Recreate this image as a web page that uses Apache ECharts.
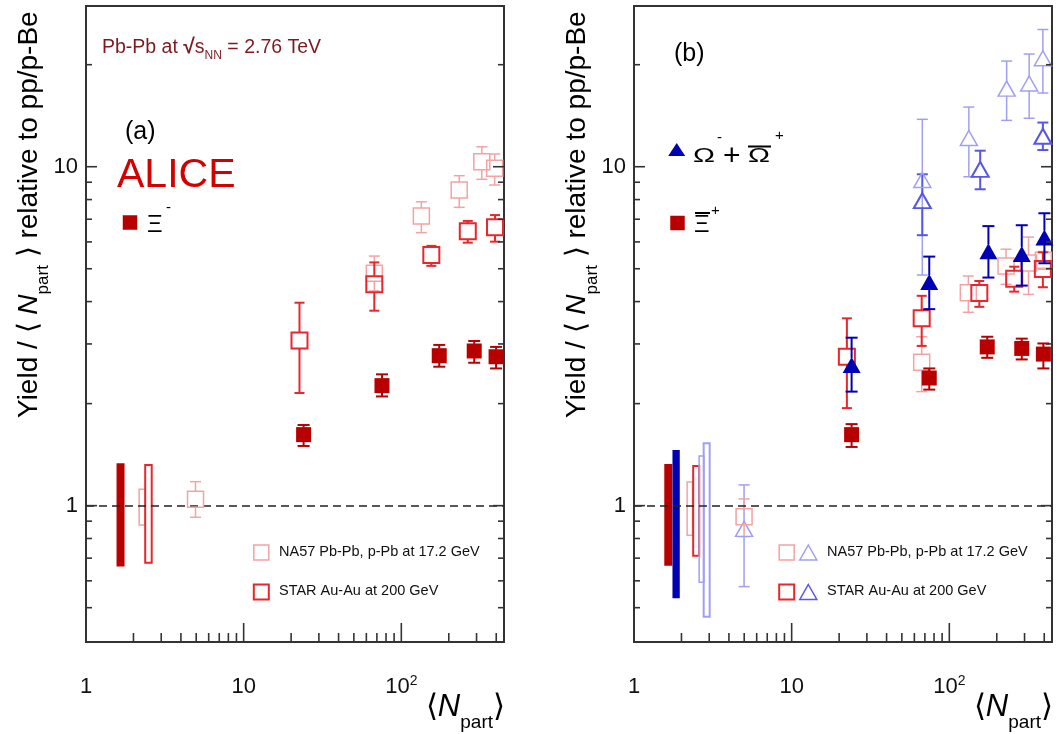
<!DOCTYPE html>
<html><head><meta charset="utf-8">
<script src="https://cdn.jsdelivr.net/npm/echarts@6/dist/echarts.min.js"></script>
<style>html,body{margin:0;padding:0;background:#fff}#c{width:1060px;height:734px}</style>
</head><body><div id="c"></div>
<script>
// ---------------- data ----------------
const X_MIN = 1, X_MAX = 448, Y_MIN = 0.396, Y_MAX = 29.8;
const xLabelValues = [1, 10, 100];
const xLabelTexts = ['{n|1}', '{n|10}', '{n|10}{s|2}'];
const yLabelValues = [1, 10];
const yLabelTexts = ['{n|1}', '{n|10}'];
const xMajorTicks = [10, 100];
const xMinorTicks = [2,3,4,5,6,7,8,9,20,30,40,50,60,70,80,90,200,300,400];
const yMajorTicks = [1, 10];
const yMinorTicks = [0.5,0.6,0.7,0.8,0.9,2,3,4,5,6,7,8,9,20];

// panel (a): Xi-
const aAliceN  = [24.0, 75.4, 174, 290, 399];
const aAliceY  = [1.62, 2.26, 2.77, 2.86, 2.75];
const aAliceLo = [1.50, 2.10, 2.57, 2.64, 2.54];
const aAliceHi = [1.73, 2.44, 2.98, 3.06, 2.94];

const aNa57N  = [4.95, 67.4, 134, 233, 324, 391];
const aNa57Y  = [1.044, 4.85, 7.15, 8.54, 10.35, 9.89];
const aNa57Lo = [0.924, 4.30, 6.39, 7.59, 9.18, 8.83];
const aNa57Hi = [1.177, 5.45, 7.88, 9.41, 11.45, 10.9];

const aStarN  = [22.6, 67.4, 155, 264, 393];
const aStarY  = [3.07, 4.50, 5.49, 6.45, 6.63];
const aStarLo = [2.15, 3.76, 5.10, 5.97, 6.01];
const aStarHi = [3.97, 5.22, 5.84, 6.92, 7.20];

// normalisation uncertainties (a): [N, low, high]
const aNormAlice = [1.656, 0.661, 1.334];
const aNormNa57  = [2.27, 0.877, 1.118];
const aNormStar  = [2.49, 0.679, 1.318];

// panel (b): Xi+ and Omega
const bAliceXiN  = [24.0, 74.6, 174, 288, 395];
const bAliceXiY  = [1.62, 2.38, 2.94, 2.91, 2.80];
const bAliceXiLo = [1.49, 2.20, 2.73, 2.70, 2.54];
const bAliceXiHi = [1.74, 2.54, 3.15, 3.11, 3.01];

const bAliceOmN  = [24.0, 74.6, 177, 288, 401];
const bAliceOmY  = [2.60, 4.57, 5.63, 5.53, 6.18];
const bAliceOmLo = [2.17, 3.80, 4.71, 4.46, 5.19];
const bAliceOmHi = [3.13, 5.43, 6.68, 6.72, 7.29];

const bStarXiN  = [22.4, 66.8, 155, 258, 392];
const bStarXiY  = [2.75, 3.57, 4.24, 4.67, 4.99];
const bStarXiLo = [1.94, 2.96, 3.86, 4.28, 4.41];
const bStarXiHi = [3.57, 4.16, 4.60, 5.07, 5.59];

const bNa57XiN  = [4.99, 66.8, 132, 229, 318, 395];
const bNa57XiY  = [0.928, 2.65, 4.25, 5.09, 5.20, 5.30];
const bNa57XiLo = [0.81, 2.17, 3.72, 4.50, 4.20, 4.98];
const bNa57XiHi = [1.047, 3.15, 4.76, 5.71, 6.20, 5.62];

const bNa57OmN  = [4.99, 67.4, 133, 231, 321, 392];
const bNa57OmY  = [0.854, 9.14, 12.15, 17.0, 17.6, 20.9];
const bNa57OmLo = [0.577, 4.79, 9.34, 13.7, 13.9, 16.5];
const bNa57OmHi = [1.151, 13.8, 15.0, 20.5, 21.5, 25.4];

const bStarOmN  = [67.4, 157, 392];
const bStarOmY  = [7.94, 9.82, 12.3];
const bStarOmLo = [6.28, 8.58, 11.2];
const bStarOmHi = [9.50, 11.15, 13.5];

// normalisation uncertainties (b)
const bNormAliceXi = [1.65, 0.665, 1.327];
const bNormAliceOm = [1.85, 0.533, 1.46];
const bNormNa57Xi  = [2.26, 0.818, 1.175];
const bNormStarXi  = [2.48, 0.712, 1.31];
const bNormNa57Om  = [2.68, 0.594, 1.40];
const bNormStarOm  = [2.89, 0.47, 1.527];

// ---------------- styles ----------------
const FONT = '"Liberation Sans", Arial, Helvetica, sans-serif';
const C_ALICE_XI = '#b80000', C_STAR_XI = '#e8262b', C_NA57_XI = '#f3a3a3';
const C_ALICE_OM = '#0000b4', C_STAR_OM = '#5656e8', C_NA57_OM = '#a0a0f2';
const FRAME = '#333333';
const C_ENERGY = '#7d1a1f';

function labelFmt(values, texts) {
  return function (v) {
    for (let i = 0; i < values.length; i++) {
      if (Math.abs(Math.log10(v) - Math.log10(values[i])) < 1e-6) return texts[i];
    }
    return '';
  };
}
const labelRich = {
  n: {fontSize: 22, lineHeight: 26, fontFamily: FONT, color: '#111'},
  s: {fontSize: 14, lineHeight: 14, verticalAlign: 'top', fontFamily: FONT, color: '#111'}
};
function xAxisCfg(g) {
  return {type: 'log', logBase: 10, gridIndex: g, min: X_MIN, max: X_MAX,
    axisLine: {show: false}, axisTick: {show: false}, splitLine: {show: false},
    axisLabel: {margin: 32, formatter: labelFmt(xLabelValues, xLabelTexts), rich: labelRich}};
}
function yAxisCfg(g) {
  return {type: 'log', logBase: 10, gridIndex: g, min: Y_MIN, max: Y_MAX,
    axisLine: {show: false}, axisTick: {show: false}, splitLine: {show: false},
    axisLabel: {margin: 8, formatter: labelFmt(yLabelValues, yLabelTexts), rich: labelRich}};
}

function xTicks(g, ticks, len) {
  return {type: 'custom', xAxisIndex: g, yAxisIndex: g, silent: true, z: 10,
    data: ticks.map(v => [v, Y_MIN]),
    renderItem: function (p, api) {
      const c = api.coord([api.value(0), Y_MIN]);
      return {type: 'line', shape: {x1: c[0], y1: c[1], x2: c[0], y2: c[1] - len},
        style: {stroke: FRAME, lineWidth: 1.6}};
    }};
}
function yTicks(g, ticks, len) {
  return {type: 'custom', xAxisIndex: g, yAxisIndex: g, silent: true, z: 10,
    data: ticks.map(v => [X_MIN, v]),
    renderItem: function (p, api) {
      const l = api.coord([X_MIN, api.value(1)]);
      const r = api.coord([X_MAX, api.value(1)]);
      const st = {stroke: FRAME, lineWidth: 1.6};
      return {type: 'group', children: [
        {type: 'line', shape: {x1: l[0], y1: l[1], x2: l[0] + len, y2: l[1]}, style: st},
        {type: 'line', shape: {x1: r[0], y1: r[1], x2: r[0] - len, y2: r[1]}, style: st}]};
    }};
}
function errBars(g, N, Y, lo, hi, color, lw, cap, gap, z) {
  return {type: 'custom', xAxisIndex: g, yAxisIndex: g, silent: true, z: z,
    dimensions: ['x', 'y', 'lo', 'hi'], encode: {x: 0, y: 1},
    data: N.map((n, i) => [n, Y[i], lo[i], hi[i]]),
    renderItem: function (p, api) {
      const x = api.value(0);
      const c = api.coord([x, api.value(1)]);
      const cl = api.coord([x, api.value(2)]);
      const ch = api.coord([x, api.value(3)]);
      const st = {stroke: color, lineWidth: lw};
      const kids = [];
      if (ch[1] < c[1] - gap) {
        kids.push({type: 'line', shape: {x1: c[0], y1: ch[1], x2: c[0], y2: c[1] - gap}, style: st});
        kids.push({type: 'line', shape: {x1: c[0] - cap / 2, y1: ch[1], x2: c[0] + cap / 2, y2: ch[1]}, style: st});
      }
      if (cl[1] > c[1] + gap) {
        kids.push({type: 'line', shape: {x1: c[0], y1: c[1] + gap, x2: c[0], y2: cl[1]}, style: st});
        kids.push({type: 'line', shape: {x1: c[0] - cap / 2, y1: cl[1], x2: c[0] + cap / 2, y2: cl[1]}, style: st});
      }
      return {type: 'group', children: kids};
    }};
}
function markers(g, N, Y, symbol, size, color, filled, bw, z) {
  return {type: 'scatter', xAxisIndex: g, yAxisIndex: g, silent: true, z: z,
    emphasis: {disabled: true}, symbol: symbol, symbolSize: size,
    data: N.map((n, i) => [n, Y[i]]),
    itemStyle: filled ? {color: color, borderWidth: 0, opacity: 1}
                      : {color: 'rgba(255,255,255,0)', borderColor: color, borderWidth: bw, opacity: 1}};
}
function normBox(g, box, color, filled, w, lw) {
  return {type: 'custom', xAxisIndex: g, yAxisIndex: g, silent: true, z: 3,
    dimensions: ['x', 'lo', 'hi'], encode: {x: 0, y: 1},
    data: [box],
    renderItem: function (p, api) {
      const x = api.value(0);
      const a = api.coord([x, api.value(1)]);
      const b = api.coord([x, api.value(2)]);
      return {type: 'rect', shape: {x: a[0] - w / 2, y: b[1], width: w, height: a[1] - b[1]},
        style: filled ? {fill: color} : {fill: 'none', stroke: color, lineWidth: lw}};
    }};
}
function unityLine(g) {
  return {type: 'scatter', xAxisIndex: g, yAxisIndex: g, silent: true, data: [], z: 1,
    markLine: {silent: true, symbol: 'none', animation: false, label: {show: false},
      lineStyle: {type: [8, 5], color: '#222', width: 1.5},
      data: [{yAxis: 1}]}};
}

const series = [];
[0, 1].forEach(g => {
  series.push(unityLine(g));
  series.push(xTicks(g, xMajorTicks, 19), xTicks(g, xMinorTicks, 9));
  series.push(yTicks(g, yMajorTicks, 11), yTicks(g, yMinorTicks, 6));
});
// panel (a)
series.push(normBox(0, aNormAlice, C_ALICE_XI, true, 8, 0));
series.push(normBox(0, aNormNa57, C_NA57_XI, false, 6, 1.5));
series.push(normBox(0, aNormStar, C_STAR_XI, false, 6.5, 2));
series.push(errBars(0, aNa57N, aNa57Y, aNa57Lo, aNa57Hi, C_NA57_XI, 1.5, 11, 8, 4));
series.push(markers(0, aNa57N, aNa57Y, 'rect', 16, C_NA57_XI, false, 1.5, 5));
series.push(errBars(0, aStarN, aStarY, aStarLo, aStarHi, C_STAR_XI, 2, 10, 8, 6));
series.push(markers(0, aStarN, aStarY, 'rect', 16, C_STAR_XI, false, 2, 7));
series.push(errBars(0, aAliceN, aAliceY, aAliceLo, aAliceHi, C_ALICE_XI, 2, 12, 7, 8));
series.push(markers(0, aAliceN, aAliceY, 'rect', 15, C_ALICE_XI, true, 0, 9));
// panel (b)
series.push(normBox(1, bNormAliceXi, C_ALICE_XI, true, 8, 0));
series.push(normBox(1, bNormAliceOm, C_ALICE_OM, true, 7.3, 0));
series.push(normBox(1, bNormNa57Xi, C_NA57_XI, false, 5.4, 1.5));
series.push(normBox(1, bNormStarXi, C_STAR_XI, false, 6, 2));
series.push(normBox(1, bNormNa57Om, C_NA57_OM, false, 4.7, 1.5));
series.push(normBox(1, bNormStarOm, C_NA57_OM, false, 6, 2));
series.push(errBars(1, bNa57OmN, bNa57OmY, bNa57OmLo, bNa57OmHi, C_NA57_OM, 1.5, 11, 7, 4));
series.push(markers(1, bNa57OmN, bNa57OmY, 'triangle', [17, 15], C_NA57_OM, false, 1.5, 5));
series.push(errBars(1, bStarOmN, bStarOmY, bStarOmLo, bStarOmHi, C_STAR_OM, 2, 11, 7, 4));
series.push(markers(1, bStarOmN, bStarOmY, 'triangle', [17, 15], C_STAR_OM, false, 2, 5));
series.push(errBars(1, bNa57XiN, bNa57XiY, bNa57XiLo, bNa57XiHi, C_NA57_XI, 1.5, 11, 8, 4));
series.push(markers(1, bNa57XiN, bNa57XiY, 'rect', 16, C_NA57_XI, false, 1.5, 5));
series.push(errBars(1, bStarXiN, bStarXiY, bStarXiLo, bStarXiHi, C_STAR_XI, 2, 10, 8, 6));
series.push(markers(1, bStarXiN, bStarXiY, 'rect', 16, C_STAR_XI, false, 2, 7));
series.push(errBars(1, bAliceXiN, bAliceXiY, bAliceXiLo, bAliceXiHi, C_ALICE_XI, 2, 12, 7, 8));
series.push(markers(1, bAliceXiN, bAliceXiY, 'rect', 15, C_ALICE_XI, true, 0, 9));
series.push(errBars(1, bAliceOmN, bAliceOmY, bAliceOmLo, bAliceOmHi, C_ALICE_OM, 2, 12, 7, 8));
series.push(markers(1, bAliceOmN, bAliceOmY, 'triangle', [18, 16], C_ALICE_OM, true, 0, 9));

// ---------------- texts & legends ----------------
function txt(x, y, text, size, color, extra) {
  return Object.assign({type: 'text', x: x, y: y, z: 20, silent: true,
    style: {text: text, fontSize: size, fontFamily: FONT, fill: color || '#000',
      align: 'left', verticalAlign: 'middle'}}, extra || {});
}
const titleRich = {
  m: {fontSize: 28, lineHeight: 46, fontFamily: FONT, fill: '#000'},
  i: {fontSize: 28, lineHeight: 46, fontFamily: FONT, fontStyle: 'italic', fill: '#000'},
  s: {fontSize: 17, lineHeight: 17, verticalAlign: 'bottom', fontFamily: FONT, fill: '#000'}
};
const yTitle = '{m|Yield / \u27E8 }{i|N}{s|part}{m| \u27E9 relative to pp/p-Be}';
const xTitleRich = {
  m: {fontSize: 31, lineHeight: 50, fontFamily: FONT, fill: '#000'},
  i: {fontSize: 31, lineHeight: 50, fontFamily: FONT, fontStyle: 'italic', fill: '#000'},
  s: {fontSize: 19, lineHeight: 19, verticalAlign: 'bottom', fontFamily: FONT, fill: '#000'}
};
const xTitle = '{m|\u27E8}{i|N}{s|part}{m|\u27E9}';

function sq(cx, cy, s, color, filled, lw) {
  return {type: 'rect', z: 20, silent: true, shape: {x: cx - s / 2, y: cy - s / 2, width: s, height: s},
    style: filled ? {fill: color} : {fill: 'none', stroke: color, lineWidth: lw}};
}
function tri(cx, cy, w, h, color, filled, lw) {
  return {type: 'polygon', z: 20, silent: true,
    shape: {points: [[cx, cy - h / 2], [cx + w / 2, cy + h / 2], [cx - w / 2, cy + h / 2]]},
    style: filled ? {fill: color} : {fill: 'none', stroke: color, lineWidth: lw}};
}
function hline(x1, x2, y, color, lw) {
  return {type: 'line', z: 20, silent: true, shape: {x1: x1, y1: y, x2: x2, y2: y}, style: {stroke: color, lineWidth: lw}};
}

const graphics = [
  // panel (a)
  {type: 'text', x: 102, y: 47.5, z: 20, silent: true, style: {
    text: '{a|Pb-Pb at }{r|\u221A}{a|s}{b|NN}{a| = 2.76 TeV}', verticalAlign: 'middle', align: 'left',
    rich: {a: {fontSize: 19.5, lineHeight: 28, fontFamily: FONT, fill: C_ENERGY},
           r: {fontSize: 21, lineHeight: 28, fontFamily: FONT, fill: C_ENERGY, fontWeight: 'bold'},
           b: {fontSize: 12, lineHeight: 12, verticalAlign: 'bottom', fontFamily: FONT, fill: C_ENERGY}}}},
  txt(125, 132, '(a)', 25, '#000'),
  txt(117, 176, 'ALICE', 41, '#d40000'),
  sq(130, 222.5, 14.5, C_ALICE_XI, true),
  txt(147, 225.5, '\u039E', 24, '#000'),
  txt(166, 208, '-', 15, '#000'),
  {type: 'text', x: 29.3, y: 418, rotation: Math.PI / 2, z: 20, silent: true,
    style: {text: yTitle, rich: titleRich, align: 'left', verticalAlign: 'middle'}},
  {type: 'text', x: 505, y: 707, z: 20, silent: true,
    style: {text: xTitle, rich: xTitleRich, align: 'right', verticalAlign: 'middle'}},
  sq(261.3, 552.5, 15, C_NA57_XI, false, 1.5),
  txt(279, 552, 'NA57 Pb-Pb, p-Pb at 17.2 GeV', 14.5, '#111'),
  sq(261.3, 592, 15, C_STAR_XI, false, 2),
  txt(279, 591, 'STAR Au-Au at 200 GeV', 14.5, '#111'),
  // panel (b)
  txt(674, 54, '(b)', 25, '#000'),
  tri(676.7, 149.5, 17, 13, C_ALICE_OM, true),
  txt(693, 156.5, '\u03A9', 21, '#000', {scaleX: 1.4}),
  txt(717, 138, '-', 15, '#000'),
  txt(723, 157, '+', 30, '#000'),
  txt(748, 156.5, '\u03A9', 21, '#000', {scaleX: 1.4}),
  hline(748, 771, 146.5, '#000', 2),
  txt(775, 136, '+', 15, '#000'),
  sq(677.5, 223, 14.5, C_ALICE_XI, true),
  txt(694, 225.5, '\u039E', 24, '#000'),
  hline(695, 710, 213, '#000', 2),
  txt(711, 211, '+', 15, '#000'),
  {type: 'text', x: 577.7, y: 418, rotation: Math.PI / 2, z: 20, silent: true,
    style: {text: yTitle, rich: titleRich, align: 'left', verticalAlign: 'middle'}},
  {type: 'text', x: 1053, y: 707, z: 20, silent: true,
    style: {text: xTitle, rich: xTitleRich, align: 'right', verticalAlign: 'middle'}},
  sq(786.7, 552.5, 15, C_NA57_XI, false, 1.5),
  tri(808.3, 552.5, 17, 15, C_NA57_OM, false, 1.5),
  txt(827, 552, 'NA57 Pb-Pb, p-Pb at 17.2 GeV', 14.5, '#111'),
  sq(786.7, 592, 15, C_STAR_XI, false, 2),
  tri(808.3, 592, 17, 15, C_STAR_OM, false, 1.5),
  txt(827, 591, 'STAR Au-Au at 200 GeV', 14.5, '#111')
];

const chart = echarts.init(document.getElementById('c'));
chart.setOption({
  animation: false,
  backgroundColor: '#fff',
  grid: [
    {left: 86, top: 6, width: 418, height: 636, show: true, borderColor: FRAME, borderWidth: 2, backgroundColor: 'transparent'},
    {left: 634, top: 6, width: 418, height: 636, show: true, borderColor: FRAME, borderWidth: 2, backgroundColor: 'transparent'}
  ],
  xAxis: [xAxisCfg(0), xAxisCfg(1)],
  yAxis: [yAxisCfg(0), yAxisCfg(1)],
  series: series,
  graphic: graphics
});
</script></body></html>
